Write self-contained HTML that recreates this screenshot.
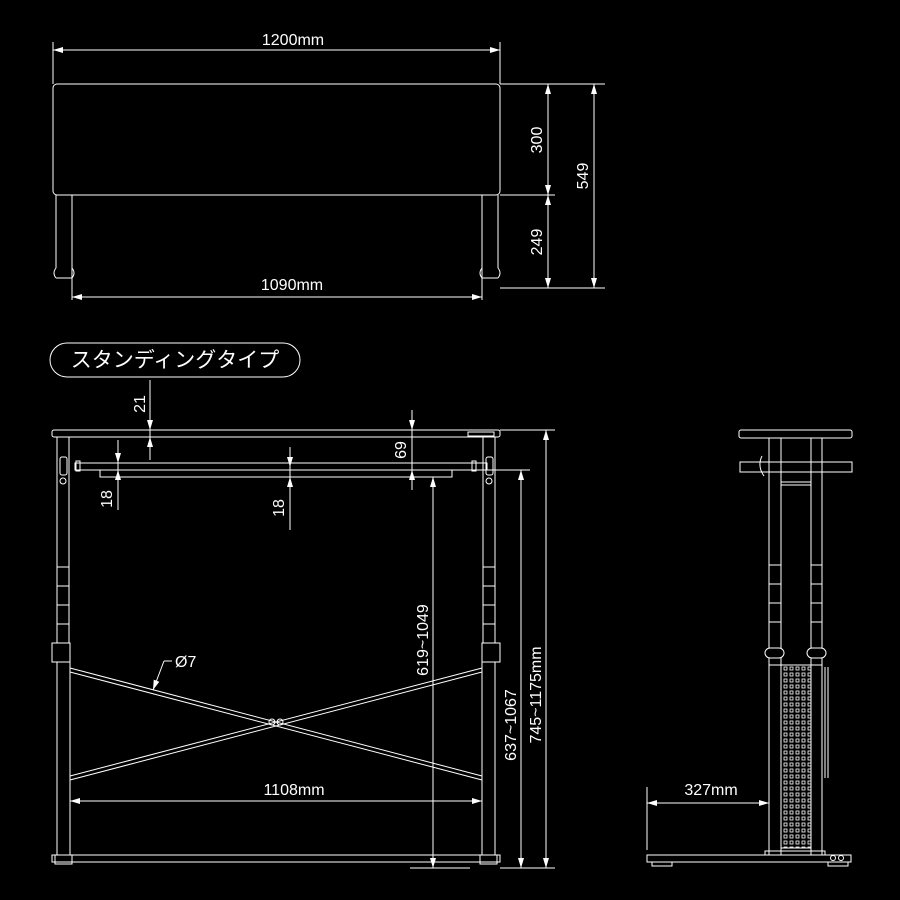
<!DOCTYPE html>
<html><head><meta charset="utf-8"><style>
html,body{margin:0;padding:0;background:#000;width:900px;height:900px;overflow:hidden}
svg{display:block}
text{font-family:"Liberation Sans","Noto Sans CJK JP",sans-serif;fill:#fff}
</style></head><body>
<svg width="900" height="900" viewBox="0 0 900 900" xmlns="http://www.w3.org/2000/svg">
<defs>
<marker id="a" viewBox="0 0 10 6" refX="10" refY="3" markerWidth="10" markerHeight="6" orient="auto-start-reverse" markerUnits="userSpaceOnUse"><path d="M0,0L10,3L0,6z" fill="#fff"/></marker>
<pattern id="perf" x="783" y="666" width="6" height="6" patternUnits="userSpaceOnUse"><rect x="1" y="1" width="3" height="3" fill="none" stroke="#fff" stroke-width="0.8"/></pattern>
</defs>
<g fill="none" stroke="#fff" stroke-width="1">
<rect x="53" y="84" width="447" height="111" rx="4"/>
<path d="M56,195V268M72,195V280M482,195V280M498,195V268"/>
<path d="M56,268q-4,5 0,10M72,268q4,5 0,10M56,278H72M482,268q-4,5 0,10M498,268q4,5 0,10M482,278H498"/>
<path d="M53,42V84M500,42V84"/>
<line x1="53" y1="50" x2="500" y2="50" marker-start="url(#a)" marker-end="url(#a)"/>
<path d="M72,280V300M482,280V300"/>
<line x1="72" y1="297" x2="482" y2="297" marker-start="url(#a)" marker-end="url(#a)"/>
<path d="M500,84H605M500,195H555M500,288H605"/>
<line x1="548" y1="84" x2="548" y2="195" marker-start="url(#a)" marker-end="url(#a)"/>
<line x1="548" y1="195" x2="548" y2="288" marker-start="url(#a)" marker-end="url(#a)"/>
<line x1="594" y1="84" x2="594" y2="288" marker-start="url(#a)" marker-end="url(#a)"/>
<rect x="50" y="343" width="250" height="34" rx="17"/>
<rect x="52" y="430" width="448" height="7" rx="2"/>
<rect x="468" y="432" width="26" height="4"/>
<path d="M57,437V643M69,437V643M483,437V643M495,437V643"/>
<path d="M57,567H69M57,586H69M57,605H69M57,624H69M483,567H495M483,586H495M483,605H495M483,624H495"/>
<rect x="52" y="643" width="18" height="19"/><rect x="482" y="643" width="18" height="19"/>
<path d="M57,662V855M70,662V855M482,662V855M495,662V855"/>
<rect x="60" y="457" width="7" height="18" rx="2"/><rect x="486" y="457" width="7" height="18" rx="2"/>
<circle cx="63" cy="481" r="3"/><circle cx="489" cy="481" r="3"/>
<rect x="75" y="463" width="412" height="7"/>
<rect x="76" y="461" width="4" height="10"/><rect x="472" y="461" width="4" height="10"/>
<path d="M100,470V477H452V470"/>
<path d="M70,668L482,776M70,672L482,780M70,776L482,668M70,780L482,672"/>
<circle cx="272" cy="722" r="3"/><circle cx="280" cy="722" r="3"/>
<rect x="52" y="855" width="448" height="7"/>
<rect x="55" y="855" width="17" height="9"/><rect x="480" y="855" width="17" height="9"/>
<path d="M150,380V460M118,440V510M290,450V530M412,410V490"/>
<line x1="150" y1="410" x2="150" y2="430" marker-end="url(#a)"/>
<line x1="150" y1="457" x2="150" y2="437" marker-end="url(#a)"/>
<line x1="118" y1="443" x2="118" y2="463" marker-end="url(#a)"/>
<line x1="118" y1="490" x2="118" y2="470" marker-end="url(#a)"/>
<line x1="290" y1="447" x2="290" y2="467" marker-end="url(#a)"/>
<line x1="290" y1="497" x2="290" y2="477" marker-end="url(#a)"/>
<line x1="412" y1="414" x2="412" y2="430" marker-end="url(#a)"/>
<line x1="412" y1="487" x2="412" y2="470" marker-end="url(#a)"/>
<path d="M500,430H555M487,470H530M452,477H440M410,868H470M500,868H555"/>
<line x1="433" y1="477" x2="433" y2="868" marker-start="url(#a)" marker-end="url(#a)"/>
<line x1="521" y1="470" x2="521" y2="868" marker-start="url(#a)" marker-end="url(#a)"/>
<line x1="546" y1="430" x2="546" y2="868" marker-start="url(#a)" marker-end="url(#a)"/>
<line x1="70" y1="801" x2="482" y2="801" marker-start="url(#a)" marker-end="url(#a)"/>
<path d="M172,661H164"/>
<line x1="164" y1="661" x2="153" y2="690" marker-end="url(#a)"/>
<rect x="739" y="430" width="113" height="8" rx="2"/>
<path d="M769,438V648M781,438V648M811,438V648M822,438V648"/>
<rect x="740" y="462" width="112" height="10"/>
<path d="M762,456q-5,10 2,20"/>
<path d="M781,482H811M781,485H811"/>
<path d="M769,565H781M769,584H781M769,603H781M769,622H781M811,565H822M811,584H822M811,603H822M811,622H822"/>
<rect x="765" y="648" width="19" height="10" rx="5"/><rect x="807" y="648" width="19" height="10" rx="5"/>
<path d="M769,658V665H781V658M811,658V665H822V658"/>
<path d="M769,665V855M781,665V855M811,665V855M822,665V855"/>
<rect x="781" y="665" width="30" height="183" fill="url(#perf)"/>
<path d="M825,667V778M828,667V778"/>
<path d="M647,855V862H851V855ZM647,855H851"/>
<rect x="765" y="851" width="60" height="4"/>
<rect x="652" y="862" width="20" height="4"/><rect x="828" y="862" width="20" height="4"/>
<circle cx="833" cy="858" r="2.5"/><circle cx="841" cy="858" r="2.5"/>
<path d="M647,787V850"/>
<line x1="647" y1="803" x2="769" y2="803" marker-start="url(#a)" marker-end="url(#a)"/>
</g>
<g font-size="16">
<text x="293" y="45" text-anchor="middle">1200mm</text>
<text x="292" y="290" text-anchor="middle">1090mm</text>
<text transform="translate(542,140) rotate(-90)" text-anchor="middle">300</text>
<text transform="translate(542,242) rotate(-90)" text-anchor="middle">249</text>
<text transform="translate(588,176) rotate(-90)" text-anchor="middle">549</text>
<text x="175" y="367" font-size="21" text-anchor="middle">スタンディングタイプ</text>
<text transform="translate(145,404) rotate(-90)" text-anchor="middle">21</text>
<text transform="translate(112,499) rotate(-90)" text-anchor="middle">18</text>
<text transform="translate(284,508) rotate(-90)" text-anchor="middle">18</text>
<text transform="translate(406,450) rotate(-90)" text-anchor="middle">69</text>
<text transform="translate(428,640) rotate(-90)" text-anchor="middle">619~1049</text>
<text transform="translate(516,725) rotate(-90)" text-anchor="middle">637~1067</text>
<text transform="translate(541,695) rotate(-90)" text-anchor="middle">745~1175mm</text>
<text x="175" y="667">Ø7</text>
<text x="294" y="795" text-anchor="middle">1108mm</text>
<text x="711" y="795" text-anchor="middle">327mm</text>
</g>
</svg>
</body></html>
